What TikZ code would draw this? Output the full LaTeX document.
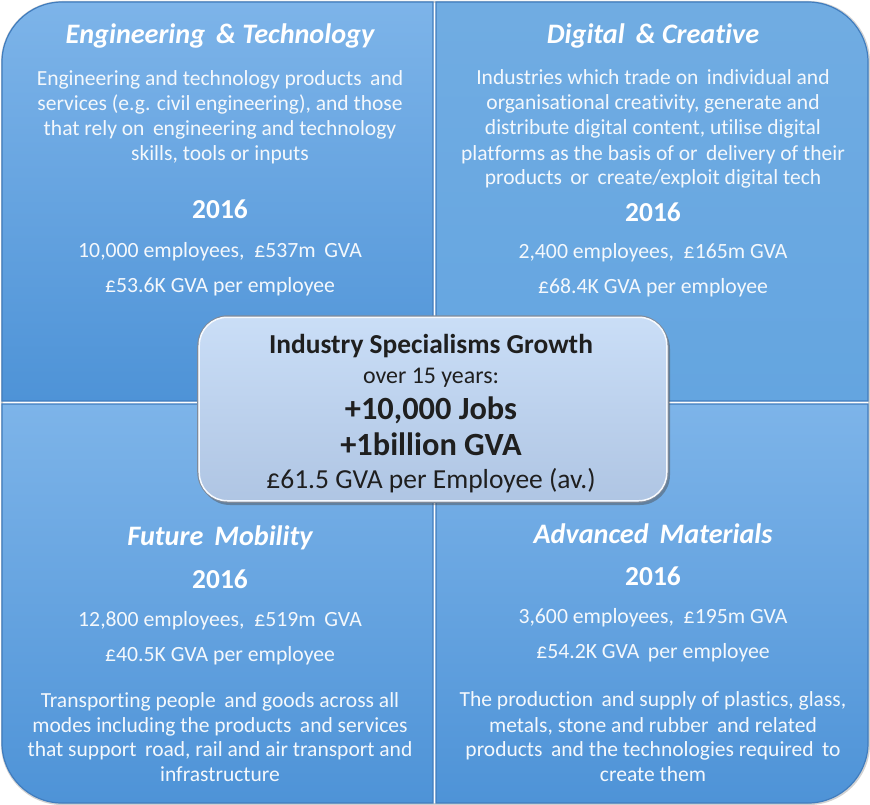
\documentclass[tikz,border=0pt]{standalone}
\usepackage{fontspec}
\setmainfont{Carlito}[Ligatures=NoCommon]
\usetikzlibrary{shadows}
\definecolor{qtop}{HTML}{7DB4E9}
\definecolor{qmid}{HTML}{5CA3E6}
\definecolor{qbot}{HTML}{4E93D7}
\definecolor{qflat}{HTML}{64A5E0}
\definecolor{qedge}{HTML}{417DBE}
\definecolor{ctop}{HTML}{CADEF7}
\definecolor{cbot}{HTML}{AFC5E3}
\definecolor{cedge}{HTML}{7F8A99}
\definecolor{qtext}{HTML}{F4F8FC}
\begin{document}
\begin{tikzpicture}[x=1bp,y=-1bp,
  quad/.style={draw=qedge, line width=1.2bp},
  ttl/.style={anchor=base, inner sep=0, text=white, font=\fontsize{28.3}{32}\selectfont\bfseries\itshape},
  yr/.style={anchor=base, inner sep=0, text=white, font=\fontsize{27.5}{32}\selectfont\bfseries},
  stat/.style={anchor=base, inner sep=0, text=qtext, font=\fontsize{21.8}{26}\selectfont},
  body/.style={anchor=base, inner sep=0, text=qtext, font=\fontsize{21.6}{25}\selectfont},
  ctext/.style={anchor=base, inner sep=0, text=black!88}]
\useasboundingbox (0,0) rectangle (870,805);
% outer soft shadow
\draw[black!18, line width=2bp, rounded corners=60bp] (2,2) rectangle (869,804);
% quadrants
\shade[quad, top color=qtop, middle color=qmid, bottom color=qbot]
  (2,401) -- (2,62) .. controls (2,29) and (29,2) .. (62,2) -- (433,2) -- (433,401) -- cycle;
\shade[quad, top color=qflat!92!white, bottom color=qflat]
  (436,2) -- (808,2) .. controls (841,2) and (868,29) .. (868,62) -- (868,401) -- (436,401) -- cycle;
\shade[quad, top color=qtop, middle color=qmid, bottom color=qbot]
  (2,404) -- (433,404) -- (433,803) -- (62,803) .. controls (29,803) and (2,776) .. (2,743) -- cycle;
\shade[quad, top color=qtop, middle color=qmid, bottom color=qbot]
  (436,404) -- (868,404) -- (868,743) .. controls (868,776) and (841,803) .. (808,803) -- (436,803) -- cycle;

% Engineering & Technology
\node[ttl] (t1) at (220,44) {Engineering \,\& Technology};
\node[body] (b1a) at (220,86) {Engineering and technology products \,and};
\node[body] (b1b) at (220,110) {services (e.g. civil engineering), and those};
\node[body] (b1c) at (220,135) {that rely on \,engineering and technology};
\node[body] (b1d) at (220,160) {skills, tools or inputs};
\node[yr] (y1) at (220,218) {2016};
\node[stat] (s1a) at (220,257) {10,000 employees, \ \pounds537m \,GVA};
\node[stat] (s1b) at (220,292) {\pounds53.6K GVA per employee};

% Digital & Creative
\node[ttl] (t2) at (653,44) {Digital \,\& Creative};
\node[body] (b2a) at (653,85) {Industries which trade on \,individual and};
\node[body] (b2b) at (653,109) {organisational creativity, generate and};
\node[body] (b2c) at (653,134) {distribute digital content, utilise digital};
\node[body] (b2d) at (653,160) {platforms as the basis of or \,delivery of their};
\node[body] (b2e) at (653,184) {products \,or \,create/exploit digital tech};
\node[yr] (y2) at (653,221) {2016};
\node[stat] (s2a) at (653,258) {2,400 employees, \ \pounds165m GVA};
\node[stat] (s2b) at (653,293) {\pounds68.4K GVA per employee};

% Future Mobility
\node[ttl] (t3) at (220,545) {Future \,Mobility};
\node[yr] (y3) at (220,588) {2016};
\node[stat] (s3a) at (220,626) {12,800 employees, \ \pounds519m \,GVA};
\node[stat] (s3b) at (220,661) {\pounds40.5K GVA per employee};
\node[body] (b3a) at (220,707) {Transporting people \,and goods across all};
\node[body] (b3b) at (220,732) {modes including the products \,and services};
\node[body] (b3c) at (220,756) {that support \,road, rail and air transport and};
\node[body] (b3d) at (220,781) {infrastructure};

% Advanced Materials
\node[ttl] (t4) at (653,543) {Advanced \,Materials};
\node[yr] (y4) at (653,585) {2016};
\node[stat] (s4a) at (653,623) {3,600 employees, \ \pounds195m GVA};
\node[stat] (s4b) at (653,658) {\pounds54.2K GVA \,per employee};
\node[body] (b4a) at (653,706) {The production \,and supply of plastics, glass,};
\node[body] (b4b) at (653,732) {metals, stone and rubber \,and related};
\node[body] (b4c) at (653,756) {products \,and the technologies required \,to};
\node[body] (b4d) at (653,781) {create them};

% central box
\node[draw=cedge, line width=1.5bp, rounded corners=30bp, minimum width=470bp, minimum height=186bp,
      top color=ctop, bottom color=cbot, inner sep=0,
      drop shadow={shadow xshift=2bp, shadow yshift=-3bp, opacity=0.45, fill=black!70}] (hub) at (433,409) {};
\draw[white!85!ctop, line width=1.5bp, rounded corners=28bp] ([shift={(2bp,-2bp)}]hub.north west) rectangle ([shift={(-2bp,2bp)}]hub.south east);
\node[ctext, font=\fontsize{27.5}{31}\selectfont\bfseries] (c1) at (431,353) {Industry Specialisms Growth};
\node[ctext, font=\fontsize{24}{28}\selectfont] (c2) at (431,383) {over 15 years:};
\node[ctext, font=\fontsize{32.5}{36}\selectfont\bfseries] (c3) at (431,419) {+10,000 Jobs};
\node[ctext, font=\fontsize{32.5}{36}\selectfont\bfseries] (c4) at (431,455) {+1billion GVA};
\node[ctext, font=\fontsize{27.6}{31}\selectfont] (c5) at (431,488) {\pounds61.5 GVA per Employee (av.)};
\end{tikzpicture}
\end{document}
